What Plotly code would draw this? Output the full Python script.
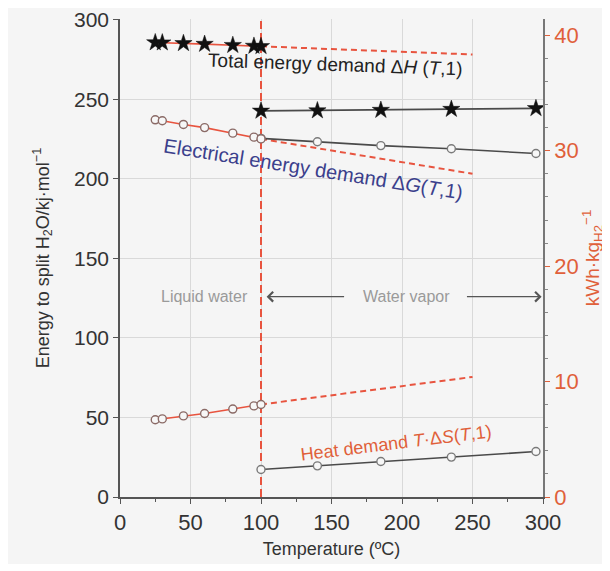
import plotly.graph_objects as go

# ---- data (kJ/mol vs temperature in degC) ----
T_liq = [25, 30, 45, 60, 80, 95, 100]
dH_liq = [285.8, 285.7, 285.3, 284.8, 284.1, 283.6, 283.4]
dG_liq = [237.2, 236.6, 234.3, 232.3, 228.8, 226.3, 225.2]
TdS_liq = [48.6, 49.1, 51.0, 52.5, 55.3, 57.3, 58.2]

T_vap = [100, 140, 185, 235, 295]
dH_vap = [242.8, 243.0, 243.3, 243.9, 244.4]
dG_vap = [225.5, 223.4, 221.0, 219.0, 216.0]
TdS_vap = [17.3, 19.6, 22.3, 25.1, 28.6]

# dashed extrapolation of liquid curves
T_ext = [100, 250]
dH_ext = [283.4, 278.3]
dG_ext = [225.2, 203.3]
TdS_ext = [58.2, 75.5]

T_phase = [100, 100]
E_phase = [0, 300]

KJMOL_TO_KWHKG = 0.13778
y_range = [0, 300.6]

RED = "#e8543f"
ORANGE = "#e0603a"
DARK = "#4a4a4a"
FONT = "Liberation Sans, Arial, sans-serif"

fig = go.Figure()

# dashed extrapolations
for ys in (dH_ext, dG_ext, TdS_ext):
    fig.add_trace(go.Scatter(x=T_ext, y=ys, mode="lines",
                             line=dict(color=RED, width=2, dash="6px,4px"),
                             showlegend=False, hoverinfo="skip"))

# phase boundary
fig.add_trace(go.Scatter(x=T_phase, y=E_phase, mode="lines",
                         line=dict(color=RED, width=2, dash="8px,4px"),
                         showlegend=False, hoverinfo="skip"))

circ = dict(symbol="circle", size=8, color="#f7f7f7",
            line=dict(color="#7a7a7a", width=1.4))
star = dict(symbol="star", size=13, color="#111111",
            line=dict(color="#111111", width=0.5))

# vapor series (grey lines)
fig.add_trace(go.Scatter(x=T_vap, y=dH_vap, mode="lines+markers",
                         line=dict(color=DARK, width=1.6), marker=star, showlegend=False))
fig.add_trace(go.Scatter(x=T_vap, y=dG_vap, mode="lines+markers",
                         line=dict(color=DARK, width=1.6), marker=circ, showlegend=False))
fig.add_trace(go.Scatter(x=T_vap, y=TdS_vap, mode="lines+markers",
                         line=dict(color=DARK, width=1.6), marker=circ, showlegend=False))

# liquid series (red lines)
circ_l = dict(circ, line=dict(color="#8a6a66", width=1.4))
fig.add_trace(go.Scatter(x=T_liq, y=dH_liq, mode="lines+markers",
                         line=dict(color=RED, width=1.6), marker=star, showlegend=False))
fig.add_trace(go.Scatter(x=T_liq, y=dG_liq, mode="lines+markers",
                         line=dict(color=RED, width=1.6), marker=circ_l, showlegend=False))
fig.add_trace(go.Scatter(x=T_liq, y=TdS_liq, mode="lines+markers",
                         line=dict(color=RED, width=1.6), marker=circ_l, showlegend=False))

# secondary axis dummy trace (kWh/kg)
fig.add_trace(go.Scatter(x=[None], y=[None], yaxis="y2", showlegend=False))

ann = []
ann.append(dict(x=153, y=272, xref="x", yref="y", showarrow=False,
                text="Total energy demand Δ<i>H</i> (<i>T</i>,1)",
                font=dict(size=19, color="#222222", family=FONT), textangle=2))
ann.append(dict(x=137, y=206, xref="x", yref="y", showarrow=False,
                text="Electrical energy demand Δ<i>G</i>(<i>T</i>,1)",
                font=dict(size=20, color="#3b3f8c", family=FONT), textangle=9))
ann.append(dict(x=196, y=34, xref="x", yref="y", showarrow=False,
                text="Heat demand <i>T</i>·Δ<i>S</i>(<i>T</i>,1)",
                font=dict(size=18, color=ORANGE, family=FONT), textangle=-7))
ann.append(dict(x=60, y=126, xref="x", yref="y", showarrow=False,
                text="Liquid water", font=dict(size=16, color="#9a9a9a", family=FONT)))
ann.append(dict(x=203, y=126, xref="x", yref="y", showarrow=False,
                text="Water vapor", font=dict(size=16, color="#9a9a9a", family=FONT)))
# arrows
ann.append(dict(x=104, y=126, ax=160, ay=126, xref="x", yref="y", axref="x", ayref="y",
                showarrow=True, arrowhead=4, arrowsize=1.6, arrowwidth=1.2,
                arrowcolor="#555555", text=""))
ann.append(dict(x=299, y=126, ax=245, ay=126, xref="x", yref="y", axref="x", ayref="y",
                showarrow=True, arrowhead=4, arrowsize=1.6, arrowwidth=1.2,
                arrowcolor="#555555", text=""))

fig.update_layout(
    width=602, height=556,
    margin=dict(l=112, r=67, t=11, b=67, autoexpand=False),
    paper_bgcolor="#f5f5f5", plot_bgcolor="#f5f5f5",
    font=dict(family=FONT, color="#333333"),
    annotations=ann,
    xaxis=dict(range=[0, 300], dtick=50, tick0=0, showgrid=True, gridcolor="#d9d9d9",
               gridwidth=1, zeroline=False, showline=True, linecolor="#555555", linewidth=1.5,
               ticks="outside", ticklen=5, tickcolor="#555555", automargin=False,
               ticklabeloverflow="allow",
               minor=dict(dtick=25, ticks="outside", ticklen=3, tickcolor="#555555", showgrid=False),
               tickfont=dict(size=22, color="#333333"),
               title=dict(text="Temperature (ºC)", font=dict(size=18, color="#333333"), standoff=8)),
    yaxis=dict(range=y_range, dtick=50, tick0=0, showgrid=True, gridcolor="#d9d9d9",
               zeroline=False, showline=True, linecolor="#555555", linewidth=1.5,
               ticks="outside", ticklen=5, tickcolor="#555555", automargin=False,
               ticklabeloverflow="allow",
               tickfont=dict(size=21, color="#333333"),
               title=dict(text="Energy to split H<sub>2</sub>O/kj·mol<sup>−1</sup>",
                          font=dict(size=18, color="#333333"), standoff=20)),
    yaxis2=dict(range=[y_range[0] * KJMOL_TO_KWHKG, y_range[1] * KJMOL_TO_KWHKG],
                overlaying="y", side="right", dtick=10, tick0=0, showgrid=False,
                zeroline=False, showline=True, linecolor="#777777", linewidth=1.5,
                ticks="outside", ticklen=5, tickcolor=ORANGE, automargin=False,
                ticklabeloverflow="allow",
                minor=dict(dtick=2, ticks="outside", ticklen=3, tickcolor="#888888"),
                tickfont=dict(size=22, color=ORANGE),
                title=dict(text="kWh·kg<sub>H2</sub><sup>−1</sup>",
                           font=dict(size=19, color=ORANGE), standoff=0)),
)

fig.write_html("out.html")
